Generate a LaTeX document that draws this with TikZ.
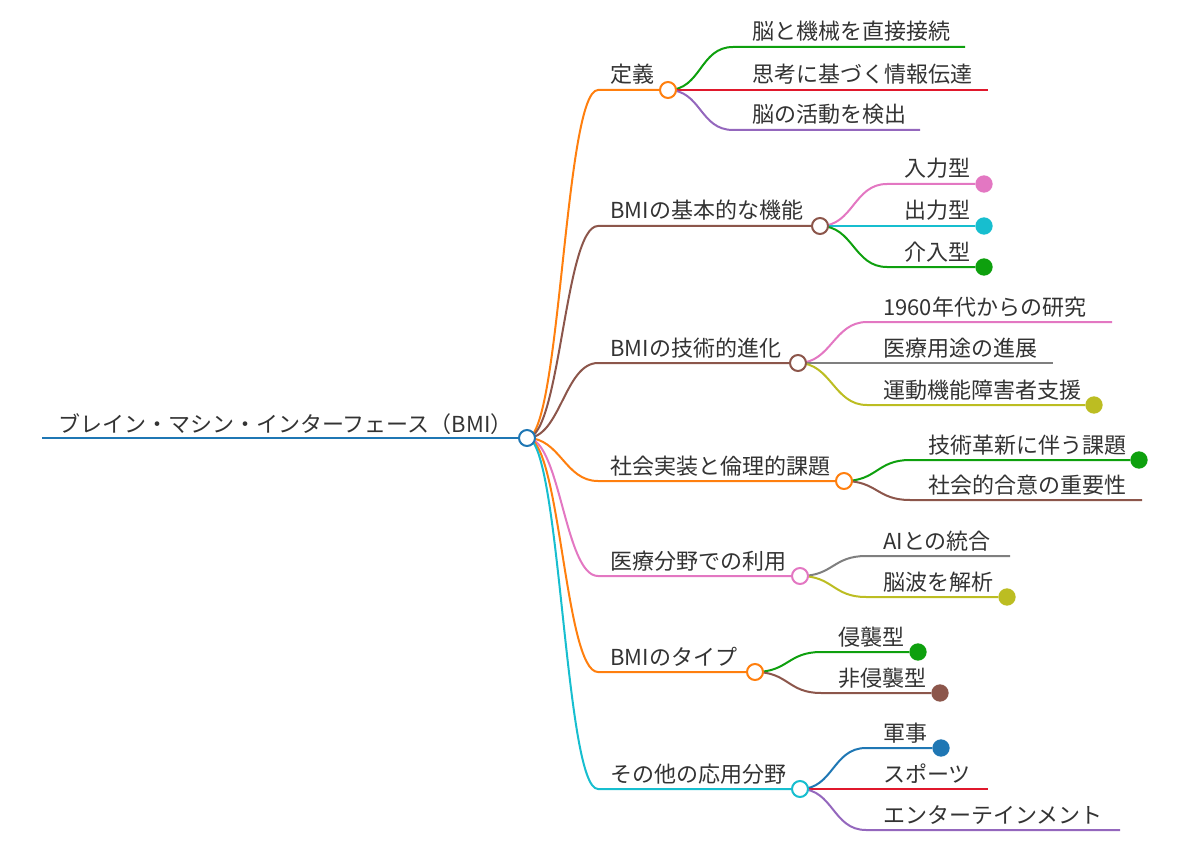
\documentclass[tikz,border=0pt]{standalone}
\usepackage{fontspec}
\setmainfont{Noto Sans CJK JP}
\usepackage{tikz}
\usetikzlibrary{backgrounds}

\definecolor{cBlue}{HTML}{1F77B4}
\definecolor{cOrange}{HTML}{FF7F0E}
\definecolor{cGreen}{HTML}{0EA00E}
\definecolor{cRed}{HTML}{E0182C}
\definecolor{cPurple}{HTML}{9467BD}
\definecolor{cBrown}{HTML}{8C564B}
\definecolor{cPink}{HTML}{E377C2}
\definecolor{cGray}{HTML}{7F7F7F}
\definecolor{cOlive}{HTML}{BCBD22}
\definecolor{cCyan}{HTML}{17BECF}
\definecolor{txt}{HTML}{333333}

\tikzset{
    hub/.style={circle,draw,fill=white,line width=1.5pt,minimum size=12pt,inner sep=0pt},
    tipdot/.style={circle,fill,minimum size=13pt,inner sep=0pt},
    lbl/.style={anchor=base west,inner sep=0pt,text=txt,font=\fontsize{16.5}{19}\selectfont},
    br/.style={line width=1.5pt},
    link/.style={out=0,in=180,distance=25pt},
}

\begin{document}
\begin{tikzpicture}[x=0.75pt,y=0.75pt,yscale=-1,xscale=1]
        \useasboundingbox (0,0) rectangle (1200,863);

        % root
        \node[hub,draw=cBlue] (bmi) at (527,438) {};
        \coordinate (bmi0) at (42,438);
        \node[lbl] (bmi-t) at (58,432) {ブレイン・マシン・インターフェース（BMI）};

        % categories
        \node[hub,draw=cOrange] (def) at (668,90) {};
        \coordinate (def0) at (598,90);
        \node[lbl] (def-t) at (610,83) {定義};
        \node[hub,draw=cBrown] (fun) at (820,226) {};
        \coordinate (fun0) at (598,226);
        \node[lbl] (fun-t) at (610,219) {BMIの基本的な機能};
        \node[hub,draw=cBrown] (evo) at (798,363) {};
        \coordinate (evo0) at (598,363);
        \node[lbl] (evo-t) at (610,356) {BMIの技術的進化};
        \node[hub,draw=cOrange] (soc) at (844,481) {};
        \coordinate (soc0) at (598,481);
        \node[lbl] (soc-t) at (610,474) {社会実装と倫理的課題};
        \node[hub,draw=cPink] (med) at (800,576) {};
        \coordinate (med0) at (598,576);
        \node[lbl] (med-t) at (610,569) {医療分野での利用};
        \node[hub,draw=cOrange] (typ) at (755,672) {};
        \coordinate (typ0) at (598,672);
        \node[lbl] (typ-t) at (610,665) {BMIのタイプ};
        \node[hub,draw=cCyan] (oth) at (800,789) {};
        \coordinate (oth0) at (598,789);
        \node[lbl] (oth-t) at (610,782) {その他の応用分野};

        % leaves of def
        \coordinate (def1a) at (733,47); \coordinate (def1b) at (965,47);
        \node[lbl] (def1-t) at (752,40) {脳と機械を直接接続};
        \coordinate (def2b) at (988,90);
        \node[lbl] (def2-t) at (752,83) {思考に基づく情報伝達};
        \coordinate (def3a) at (733,130); \coordinate (def3b) at (920,130);
        \node[lbl] (def3-t) at (752,123) {脳の活動を検出};

        % leaves of fun
        \coordinate (fun1a) at (887,184);
        \node[tipdot,cPink] (fun1) at (984,184) {};
        \node[lbl] (fun1-t) at (904,177) {入力型};
        \node[tipdot,cCyan] (fun2) at (984,226) {};
        \node[lbl] (fun2-t) at (904,219) {出力型};
        \coordinate (fun3a) at (887,267);
        \node[tipdot,cGreen] (fun3) at (984,267) {};
        \node[lbl] (fun3-t) at (904,260) {介入型};

        % leaves of evo
        \coordinate (evo1a) at (867,322); \coordinate (evo1b) at (1112,322);
        \node[lbl] (evo1-t) at (883,315) {1960年代からの研究};
        \coordinate (evo2b) at (1053,363);
        \node[lbl] (evo2-t) at (883,356) {医療用途の進展};
        \coordinate (evo3a) at (867,405);
        \node[tipdot,cOlive] (evo3) at (1094,405) {};
        \node[lbl] (evo3-t) at (883,398) {運動機能障害者支援};

        % leaves of soc
        \coordinate (soc1a) at (910,460);
        \node[tipdot,cGreen] (soc1) at (1139,460) {};
        \node[lbl] (soc1-t) at (928,453) {技術革新に伴う課題};
        \coordinate (soc2a) at (910,500); \coordinate (soc2b) at (1142,500);
        \node[lbl] (soc2-t) at (928,493) {社会的合意の重要性};

        % leaves of med
        \coordinate (med1a) at (866,556); \coordinate (med1b) at (1010,556);
        \node[lbl] (med1-t) at (883,549) {AIとの統合};
        \coordinate (med2a) at (866,597);
        \node[tipdot,cOlive] (med2) at (1007,597) {};
        \node[lbl] (med2-t) at (883,590) {脳波を解析};

        % leaves of typ
        \coordinate (typ1a) at (821,652);
        \node[tipdot,cGreen] (typ1) at (918,652) {};
        \node[lbl] (typ1-t) at (838,645) {侵襲型};
        \coordinate (typ2a) at (821,693);
        \node[tipdot,cBrown] (typ2) at (940,693) {};
        \node[lbl] (typ2-t) at (838,686) {非侵襲型};

        % leaves of oth
        \coordinate (oth1a) at (866,748);
        \node[tipdot,cBlue] (oth1) at (941,748) {};
        \node[lbl] (oth1-t) at (883,741) {軍事};
        \coordinate (oth2b) at (988,789);
        \node[lbl] (oth2-t) at (883,782) {スポーツ};
        \coordinate (oth3a) at (866,830); \coordinate (oth3b) at (1120,830);
        \node[lbl] (oth3-t) at (883,823) {エンターテインメント};

        \begin{scope}[on background layer]
        \draw[cBlue,line width=2pt] (bmi0) -- (bmi);
        \draw[br,cOrange] (bmi.center) to[link] (def0) -- (def);
        \draw[br,cBrown] (bmi.center) to[link] (fun0) -- (fun);
        \draw[br,cBrown] (bmi.center) to[link] (evo0) -- (evo);
        \draw[br,cOrange] (bmi.center) to[link] (soc0) -- (soc);
        \draw[br,cPink] (bmi.center) to[link] (med0) -- (med);
        \draw[br,cOrange] (bmi.center) to[link] (typ0) -- (typ);
        \draw[br,cCyan] (bmi.center) to[link] (oth0) -- (oth);

        \draw[br,cGreen] (def.center) to[link] (def1a) -- (def1b);
        \draw[br,cRed] (def.center) -- (def2b);
        \draw[br,cPurple] (def.center) to[link] (def3a) -- (def3b);

        \draw[br,cPink] (fun.center) to[link] (fun1a) -- (fun1);
        \draw[br,cCyan] (fun.center) -- (fun2);
        \draw[br,cGreen] (fun.center) to[link] (fun3a) -- (fun3);

        \draw[br,cPink] (evo.center) to[link] (evo1a) -- (evo1b);
        \draw[br,cGray] (evo.center) -- (evo2b);
        \draw[br,cOlive] (evo.center) to[link] (evo3a) -- (evo3);

        \draw[br,cGreen] (soc.center) to[link] (soc1a) -- (soc1);
        \draw[br,cBrown] (soc.center) to[link] (soc2a) -- (soc2b);

        \draw[br,cGray] (med.center) to[link] (med1a) -- (med1b);
        \draw[br,cOlive] (med.center) to[link] (med2a) -- (med2);

        \draw[br,cGreen] (typ.center) to[link] (typ1a) -- (typ1);
        \draw[br,cBrown] (typ.center) to[link] (typ2a) -- (typ2);

        \draw[br,cBlue] (oth.center) to[link] (oth1a) -- (oth1);
        \draw[br,cRed] (oth.center) -- (oth2b);
        \draw[br,cPurple] (oth.center) to[link] (oth3a) -- (oth3b);
        \end{scope}
    \end{tikzpicture}
\end{document}
